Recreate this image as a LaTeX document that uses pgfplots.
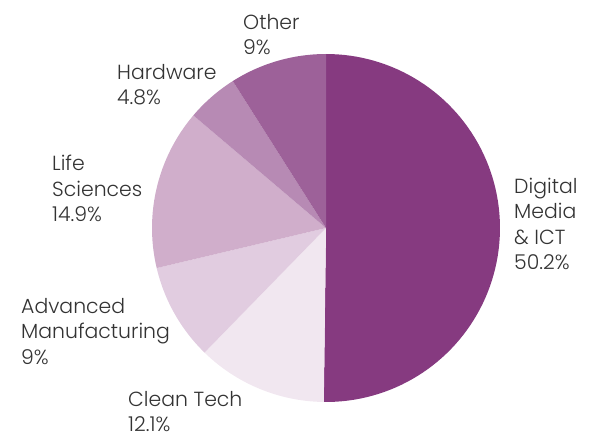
\documentclass[border=0pt]{standalone}
\usepackage{fontspec}
\setmainfont{Poppins}[UprightFont={* Light}]
\usepackage{pgfplots}
\pgfplotsset{compat=1.18}
\definecolor{cDigital}{HTML}{863A80}
\definecolor{cClean}{HTML}{F1E7F0}
\definecolor{cAdv}{HTML}{E1CCE0}
\definecolor{cLife}{HTML}{D0AECB}
\definecolor{cHard}{HTML}{B78AB4}
\definecolor{cOther}{HTML}{9D6199}
\definecolor{txt}{HTML}{333333}
\begin{document}
\begin{tikzpicture}
% shares (%): Digital Media & ICT 50.2, Clean Tech 12.1, Advanced Manufacturing 9,
% Life Sciences 14.9, Hardware 4.8, Other 9 -- clockwise from 12 o'clock, 3.6 deg per %
\begin{axis}[
    at={(0,0)}, anchor=origin,
    x=174bp, y=174bp,
    xmin=-1, xmax=1, ymin=-1, ymax=1,
    hide axis, clip=false,
]
\addplot[fill=cDigital, draw=none, domain=-90.72:90, samples=90] ({cos(x)},{sin(x)}) -- (0,0) -- cycle;
\addplot[fill=cClean, draw=none, domain=-134.28:-90.72, samples=30] ({cos(x)},{sin(x)}) -- (0,0) -- cycle;
\addplot[fill=cAdv, draw=none, domain=-166.68:-134.28, samples=30] ({cos(x)},{sin(x)}) -- (0,0) -- cycle;
\addplot[fill=cLife, draw=none, domain=-220.32:-166.68, samples=30] ({cos(x)},{sin(x)}) -- (0,0) -- cycle;
\addplot[fill=cHard, draw=none, domain=-237.6:-220.32, samples=20] ({cos(x)},{sin(x)}) -- (0,0) -- cycle;
\addplot[fill=cOther, draw=none, domain=-270:-237.6, samples=30] ({cos(x)},{sin(x)}) -- (0,0) -- cycle;
\end{axis}
\tikzset{lbl/.style={anchor=north west, inner sep=0pt, align=left, text=txt,
    font=\fontsize{20.5}{25.5}\selectfont}}
\node[lbl] at (188bp,50bp) {Digital\\Media\\\& ICT\\50.2\%};
\node[lbl] at (-198bp,-163bp) {Clean Tech\\12.1\%};
\node[lbl] at (-305bp,-70bp) {Advanced\\Manufacturing\\9\%};
\node[lbl] at (-274bp,73bp) {Life\\Sciences\\14.9\%};
\node[lbl] at (-209bp,164bp) {Hardware\\4.8\%};
\node[lbl] at (-83bp,214bp) {Other\\9\%};
\pgfresetboundingbox
\path (-326bp,-209bp) rectangle (266bp,228bp);
\end{tikzpicture}
\end{document}
